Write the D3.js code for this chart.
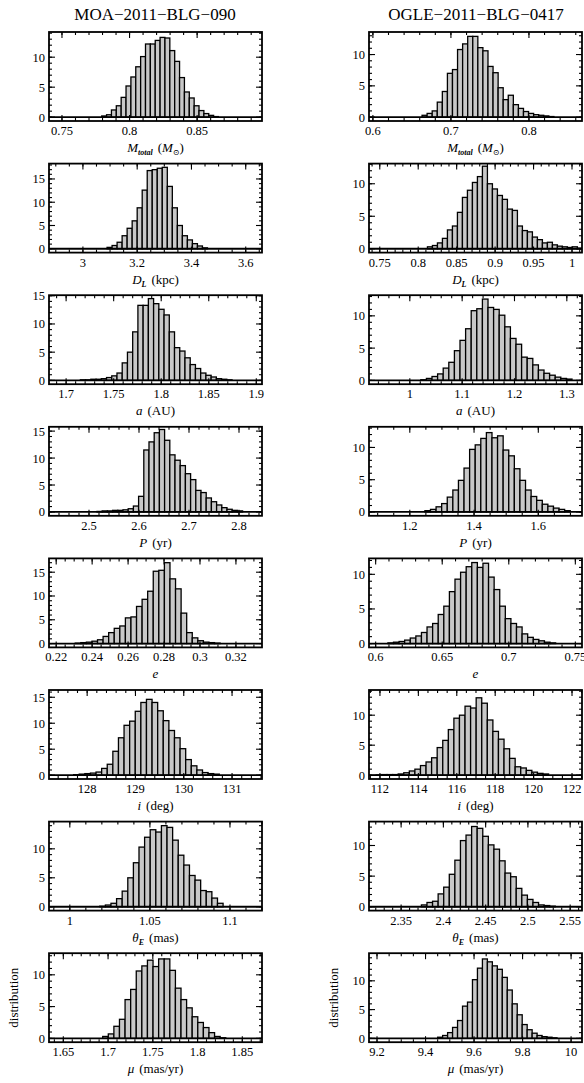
<!DOCTYPE html>
<html><head><meta charset="utf-8">
<script src="https://cdn.jsdelivr.net/npm/d3@7"></script>
<style>body{margin:0;background:#fff}svg{font-family:"Liberation Serif","DejaVu Serif",serif}</style>
</head><body><svg id="c" width="584" height="1083"></svg>
<script>
const titles=["MOA\u22122011\u2212BLG\u2212090","OGLE\u22122011\u2212BLG\u22120417"];
const labels=[["M","total","(M","\u2299",")"],["D","L","(kpc)"],["a","","(AU)"],["P","","(yr)"],["e","",""],["i","","(deg)"],["\u03b8","E","(mas)"],["\u03bc","","(mas/yr)"]];
const xDomains=[[[0.7404,0.898],[0.595,0.868]],[[2.875,3.66],[0.736,1.013]],[[1.682,1.906],[0.922,1.329]],[[2.42,2.846],[1.073,1.736]],[[0.216,0.3345],[0.595,0.755]],[[127.21,131.62],[111.43,122.52]],[[0.987,1.12],[2.312,2.564]],[[1.634,1.872],[9.167,10.045]]];
const xMajor=[[0.05,0.1],[0.2,0.05],[0.05,0.1],[0.1,0.2],[0.02,0.05],[1,2],[0.05,0.05],[0.05,0.2]];
const xMinor=[[0.01,0.02],[0.05,0.01],[0.01,0.02],[0.02,0.05],[0.005,0.01],[0.2,0.5],[0.01,0.01],[0.01,0.05]];
const yMax=[[14.2,13.6],[18.3,13.1],[15.1,13.2],[15.8,13.2],[17.9,12.3],[16.4,14.2],[14.7,13.9],[13.4,14.8]];
const binStart=[[0.7794,0.663],[3.089,0.812],[1.715,1.021],[2.516,1.247],[0.2306,0.6092],[127.72,111.79],[1.0187,2.374],[1.694,9.45]];
const binWidth=[[0.0036,0.0065],[0.0185,0.0065],[0.0055,0.0107],[0.0104,0.0174],[0.0031,0.0042],[0.116,0.29],[0.0035,0.0066],[0.00625,0.0205]];
const counts=[
[[0.2,0.4,1.2,1.9,3.3,5.2,6.7,8.4,10.1,12.2,12.2,12.8,13.3,13.2,11.1,9.3,6.6,4.2,3.2,1.9,1.1,0.6,0.3,0.1],
 [0.3,0.6,1.0,2.4,4.1,7.0,7.6,10.8,11.7,12.9,12.9,11.1,10.6,8.1,7.1,4.7,2.8,3.5,2.0,1.4,0.9,0.6,0.4,0.3,0.2,0.1]],
[[0.3,0.7,1.4,2.8,4.4,6.0,8.8,12.6,16.8,17.0,17.3,17.5,13.4,8.8,5.0,2.8,1.9,1.1,0.6,0.2],
 [0.3,0.5,0.9,1.6,2.9,3.5,5.6,7.9,9.0,10.2,11.1,12.7,10.0,9.2,8.2,7.6,6.1,5.9,3.5,2.8,2.6,1.8,1.4,0.9,1.0,0.6,0.4,0.3,0.2,0.3,0.1]],
[[0.1,0.1,0.2,0.2,0.3,0.5,0.8,1.3,3.1,5.0,8.6,13.3,13.3,14.5,13.6,12.6,11.6,8.6,5.8,5.2,4.0,2.8,2.1,1.3,0.9,0.6,0.3,0.2,0.1],
 [0.1,0.3,0.6,1.0,1.9,2.8,4.6,6.2,8.0,10.8,11.1,12.6,11.3,11.0,10.1,8.3,6.5,5.6,3.6,3.4,2.4,1.6,1.1,0.8,0.5,0.3,0.2]],
[[0.1,0.2,0.2,0.3,0.3,0.4,0.6,1.1,2.9,11.5,13.0,14.7,15.3,13.3,10.6,9.6,8.6,7.1,6.0,4.0,3.6,2.6,1.9,1.3,0.8,0.5,0.3,0.2],
 [0.2,0.4,0.8,1.3,2.3,3.4,4.9,6.8,9.7,10.4,11.4,12.3,11.5,11.8,9.6,8.7,6.7,4.9,3.4,2.4,1.8,1.2,0.9,0.6,0.4,0.2]],
[[0.1,0.2,0.3,0.5,0.8,1.5,2.3,3.2,3.7,5.4,5.6,7.8,9.3,11.0,15.2,15.4,17.0,13.6,11.5,6.4,2.3,1.2,0.6,0.3,0.2,0.1],
 [0.1,0.2,0.3,0.5,0.8,1.1,1.6,2.4,2.9,4.2,5.4,7.5,9.3,10.3,11.1,11.7,11.0,11.6,9.6,7.8,5.4,3.6,2.9,2.4,1.4,0.9,0.6,0.4,0.2,0.1]],
[[0.1,0.2,0.3,0.4,0.6,1.3,2.1,4.6,7.2,9.6,10.4,12.3,14.0,14.6,14.0,12.4,10.5,8.6,7.2,5.1,3.0,1.8,1.0,0.5,0.3,0.2],
 [0.05,0.1,0.1,0.1,0.2,0.4,0.7,1.0,1.6,2.2,2.9,4.6,5.8,7.6,9.5,10.0,11.5,11.2,12.9,12.0,9.2,7.3,6.0,4.4,2.8,1.4,1.2,0.8,0.5,0.3,0.2]],
[[0.1,0.3,0.6,1.4,2.7,5.0,7.6,10.3,12.0,13.3,12.9,14.0,13.7,11.5,8.9,7.2,5.4,4.6,2.8,2.6,1.5,0.6],
 [0.3,0.7,0.9,2.1,3.2,5.3,7.6,10.8,11.7,13.1,12.8,11.5,10.1,9.4,7.5,5.5,4.9,3.0,1.9,1.2,0.7,0.3,0.2,0.1]],
[[0.3,0.7,1.9,3.0,6.1,7.7,10.6,11.4,12.3,11.3,12.5,12.5,10.7,7.9,6.1,4.8,3.4,2.5,1.7,0.9,0.3,0.1],
 [0.2,0.5,1.0,1.9,3.1,5.6,6.3,10.2,12.2,13.8,13.3,12.6,12.0,10.6,8.4,6.0,4.1,2.4,1.5,0.9,0.5,0.3,0.2,0.1]]
];
const yMajorStep=5, yMinorStep=1;

const svg=d3.select("#c");
const colX=[[49,262],[369,582]];
const top0=32, pitch=131.6, ph=89;
svg.append("text").attr("x",155).attr("y",20).attr("text-anchor","middle").attr("font-size",17).text(titles[0]);
svg.append("text").attr("x",476).attr("y",20).attr("text-anchor","middle").attr("font-size",17).text(titles[1]);

function ticksOf(dom,step){const a=[];const s=Math.ceil(dom[0]/step-1e-6);for(let k=s;k*step<=dom[1]+1e-9;k++)a.push(+(k*step).toFixed(6));return a;}
function fmt(v){return String(+v.toFixed(4));}

for(let r=0;r<8;r++)for(let c=0;c<2;c++){
  const y0=top0+r*pitch, y1=y0+ph;
  const x=d3.scaleLinear().domain(xDomains[r][c]).range(colX[c]);
  const ym=yMax[r][c];
  const y=d3.scaleLinear().domain([-0.045*ym,ym]).range([y1,y0]);
  const g=svg.append("g");
  g.append("clipPath").attr("id",`cp${r}${c}`).append("rect").attr("x",colX[c][0]).attr("y",y0).attr("width",colX[c][1]-colX[c][0]).attr("height",ph);
  const cg=g.append("g").attr("clip-path",`url(#cp${r}${c})`);
  const bs=binStart[r][c], bw=binWidth[r][c];
  cg.selectAll("rect.b").data(counts[r][c]).join("rect")
    .attr("x",(d,i)=>x(bs+i*bw)).attr("width",(d,i)=>x(bs+(i+1)*bw)-x(bs+i*bw))
    .attr("y",d=>y(d)).attr("height",d=>y(0)-y(d))
    .attr("fill","#c8c8c8").attr("stroke","#000").attr("stroke-width",1.3);
  cg.append("line").attr("x1",colX[c][0]).attr("x2",colX[c][1]).attr("y1",y(0)).attr("y2",y(0)).attr("stroke","#000").attr("stroke-width",1.8);
  g.append("rect").attr("x",colX[c][0]).attr("y",y0).attr("width",colX[c][1]-colX[c][0]).attr("height",ph).attr("fill","none").attr("stroke","#000").attr("stroke-width",1.8);
  const tk=g.append("g").attr("stroke","#000").attr("stroke-width",1.1);
  const dom=xDomains[r][c];
  ticksOf(dom,xMinor[r][c]).forEach(v=>{const X=x(v);tk.append("line").attr("x1",X).attr("x2",X).attr("y1",y1).attr("y2",y1-3);tk.append("line").attr("x1",X).attr("x2",X).attr("y1",y0).attr("y2",y0+3);});
  ticksOf(dom,xMajor[r][c]).forEach(v=>{const X=x(v);tk.append("line").attr("x1",X).attr("x2",X).attr("y1",y1).attr("y2",y1-6);tk.append("line").attr("x1",X).attr("x2",X).attr("y1",y0).attr("y2",y0+6);
    g.append("text").attr("x",X).attr("y",y1+14).attr("text-anchor","middle").attr("font-size",12.5).text(fmt(v));});
  ticksOf([0,ym],yMinorStep).forEach(v=>{const Y=y(v);tk.append("line").attr("x1",colX[c][0]).attr("x2",colX[c][0]+3).attr("y1",Y).attr("y2",Y);tk.append("line").attr("x1",colX[c][1]).attr("x2",colX[c][1]-3).attr("y1",Y).attr("y2",Y);});
  ticksOf([0,ym],yMajorStep).forEach(v=>{const Y=y(v);tk.append("line").attr("x1",colX[c][0]).attr("x2",colX[c][0]+6).attr("y1",Y).attr("y2",Y);tk.append("line").attr("x1",colX[c][1]).attr("x2",colX[c][1]-6).attr("y1",Y).attr("y2",Y);
    g.append("text").attr("x",colX[c][0]-4).attr("y",Y+4.5).attr("text-anchor","end").attr("font-size",12.5).text(v);});
  const L=labels[r];const cx=(colX[c][0]+colX[c][1])/2;
  const t=g.append("text").attr("x",cx).attr("y",y1+31).attr("text-anchor","middle").attr("font-size",13);
  t.append("tspan").attr("font-style","italic").text(L[0]);
  if(L[1])t.append("tspan").attr("font-style","italic").attr("font-size",8).attr("dy",3).attr("font-weight","bold").text(L[1]);
  if(L[2]){const s=t.append("tspan").attr("dx",5).attr("dy",L[1]?-3:0);
    if(r===0){s.text("(");t.append("tspan").attr("font-style","italic").text("M");t.append("tspan").attr("font-size",8).attr("dy",3).text(L[3]);t.append("tspan").attr("dy",-3).text(")");}
    else s.text(L[2]);}
  if(r===7){g.append("text").attr("transform",`translate(${colX[c][0]-31},${(y0+y1)/2}) rotate(-90)`).attr("text-anchor","middle").attr("font-size",13).text("distribution");}
}
</script></body></html>
